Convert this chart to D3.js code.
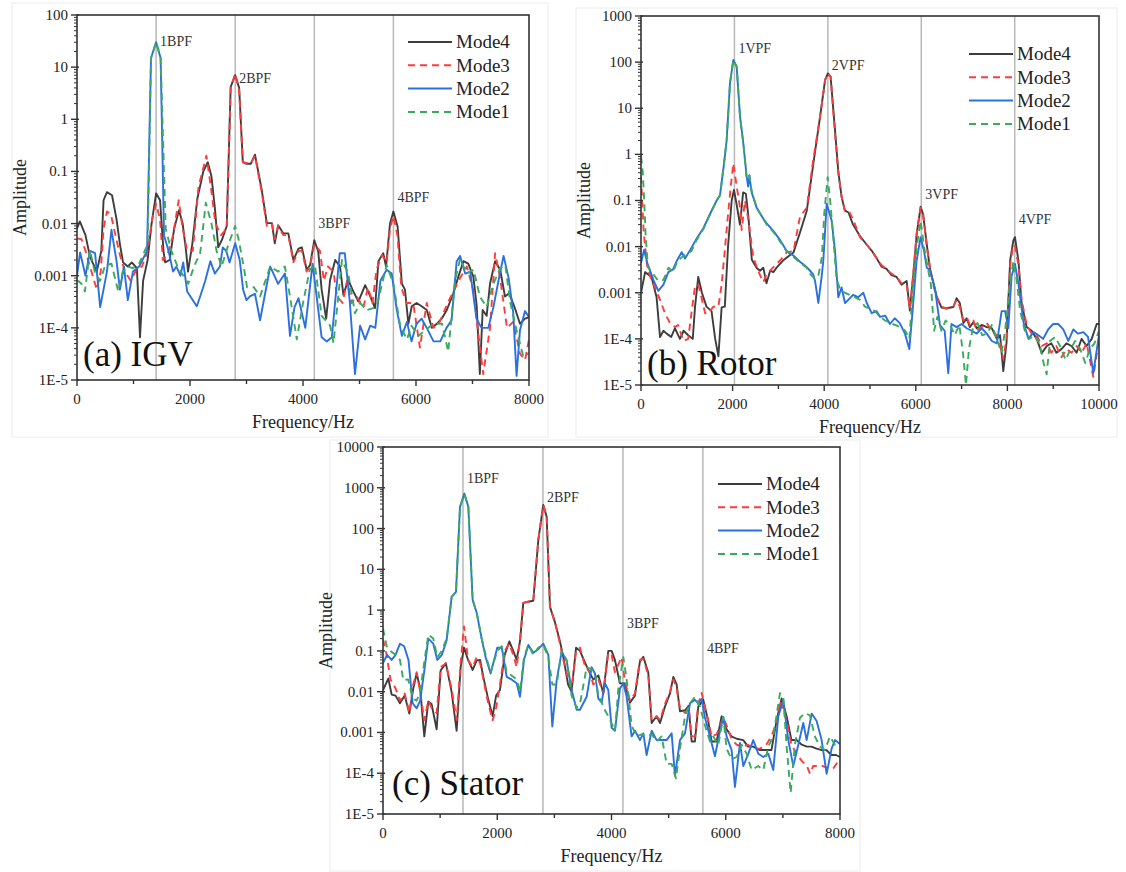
<!DOCTYPE html>
<html>
<head>
<meta charset="utf-8">
<script src="https://cdn.jsdelivr.net/npm/d3@7"></script>
<style>
  body { margin: 0; background: #fff; }
  svg { display: block; }
  text { font-family: "Liberation Serif", "Times New Roman", "DejaVu Serif", serif; }
</style>
</head>
<body>
<svg id="chart" width="1126" height="872" font-family="Liberation Serif, Times New Roman, serif"></svg>
<script>
// ---------- shared ----------
const modeNames = ["Mode4", "Mode3", "Mode2", "Mode1"];
const modeColors = ["#3d3d3d", "#ff3b3b", "#2b70e0", "#3aaa5c"];
const modeDashes = [null, "7,5", null, "7,5"];

// ---------- (a) IGV ----------
const igvXTicks = [0, 2000, 4000, 6000, 8000];
const igvYTicks = ["1E-5", "1E-4", "0.001", "0.01", "0.1", "1", "10", "100"];
const igvHarmonics = [1400, 2800, 4200, 5600];
const igvHarmonicNames = ["1BPF", "2BPF", "3BPF", "4BPF"];
const igvLabelAmp = [26, 5, 0.0082, 0.026];

const igvMode4 = [[0,0.008],[50,0.011],[150,0.006],[230,0.0023],[350,0.0012],[430,0.003],[470,0.028],[530,0.04],[620,0.035],[700,0.012],[760,0.004],[815,0.0018],[900,0.0015],[970,0.0018],[1060,0.0014],[1115,0.000066],[1170,0.0008],[1250,0.002],[1320,0.01],[1400,0.038],[1470,0.028],[1530,0.003],[1560,0.0018],[1640,0.002],[1720,0.008],[1805,0.018],[1870,0.01],[1930,0.003],[1965,0.0012],[2040,0.004],[2130,0.03],[2235,0.1],[2315,0.15],[2380,0.08],[2440,0.02],[2500,0.0035],[2570,0.005],[2650,0.009],[2720,4.2],[2800,7],[2870,4],[2935,0.15],[3000,0.14],[3075,0.14],[3150,0.21],[3270,0.044],[3360,0.0102],[3450,0.0102],[3500,0.0042],[3560,0.0093],[3650,0.0065],[3740,0.0065],[3830,0.002],[3920,0.0033],[3980,0.0035],[4065,0.0013],[4125,0.0016],[4200,0.0048],[4270,0.0029],[4330,0.00054],[4410,0.00015],[4480,0.00083],[4570,0.002],[4655,0.0015],[4715,0.00043],[4800,0.00083],[4890,0.0005],[4980,0.00032],[5100,0.00066],[5190,0.0004],[5275,0.00024],[5335,0.0019],[5420,0.0027],[5470,0.0015],[5540,0.01],[5600,0.017],[5675,0.0087],[5750,0.0007],[5805,0.00054],[5865,0.00012],[5925,0.00026],[6010,0.0003],[6100,0.00026],[6190,0.00022],[6280,0.0001],[6370,0.00012],[6455,0.00015],[6545,0.00022],[6660,0.00046],[6750,0.00096],[6840,0.0019],[6925,0.0017],[7015,0.00096],[7075,0.00026],[7130,0.000013],[7180,0.00022],[7250,0.00017],[7310,0.0007],[7400,0.0019],[7490,0.0013],[7575,0.0004],[7650,0.00046],[7750,0.00024],[7840,0.00012],[7930,0.00015],[8000,0.00016]];
const igvMode3 = [[0,0.0052],[80,0.005],[150,0.003],[230,0.0015],[350,0.00054],[420,0.0012],[470,0.008],[530,0.017],[600,0.015],[680,0.006],[760,0.0025],[850,0.0012],[950,0.0008],[1050,0.0013],[1150,0.0015],[1250,0.003],[1330,0.012],[1400,0.024],[1470,0.012],[1520,0.002],[1600,0.0025],[1700,0.006],[1800,0.028],[1870,0.008],[1950,0.003],[2050,0.003],[2150,0.05],[2290,0.2],[2370,0.05],[2450,0.01],[2550,0.006],[2650,0.008],[2720,4],[2800,7.5],[2870,3.5],[2935,0.15],[3075,0.14],[3150,0.2],[3270,0.04],[3360,0.009],[3450,0.01],[3500,0.005],[3560,0.009],[3650,0.006],[3740,0.006],[3830,0.0018],[3920,0.003],[3980,0.003],[4065,0.0012],[4125,0.0015],[4200,0.004],[4300,0.003],[4370,0.0008],[4440,0.0015],[4540,0.0012],[4600,0.0004],[4700,0.0003],[4780,0.0008],[4860,0.0003],[4950,0.0004],[5070,0.00025],[5150,0.0006],[5230,0.0003],[5300,0.0013],[5400,0.0025],[5480,0.0018],[5540,0.008],[5600,0.014],[5670,0.006],[5740,0.0006],[5830,0.0003],[5950,0.0003],[6070,0.000042],[6190,0.0003],[6310,0.0001],[6420,0.00013],[6560,0.0003],[6780,0.0009],[6900,0.0015],[7020,0.0005],[7100,0.00008],[7190,0.000013],[7310,0.0001],[7400,0.0027],[7490,0.0009],[7610,0.0001],[7720,0.00013],[7840,0.000032],[7930,0.000024],[8000,0.00006]];
const igvMode2 = [[0,0.001],[55,0.0028],[150,0.001],[230,0.003],[320,0.0027],[410,0.00025],[530,0.0012],[610,0.0076],[700,0.0019],[760,0.00054],[830,0.0015],[900,0.00034],[990,0.0012],[1100,0.0015],[1240,0.003],[1310,15],[1400,30],[1480,15],[1540,0.006],[1620,0.003],[1700,0.0012],[1760,0.0015],[1830,0.001],[1880,0.0018],[1950,0.0005],[2120,0.00026],[2180,0.0004],[2270,0.0008],[2360,0.0019],[2440,0.0011],[2530,0.0015],[2580,0.0035],[2640,0.003],[2700,0.0018],[2800,0.0042],[2880,0.002],[2940,0.00054],[3000,0.00034],[3060,0.0004],[3150,0.00045],[3240,0.00014],[3420,0.0015],[3560,0.0007],[3680,0.0011],[3770,0.00007],[3850,0.00025],[3920,0.00037],[4040,0.0001],[4170,0.0017],[4330,0.000066],[4420,0.000055],[4510,0.000066],[4650,0.0027],[4740,0.0027],[4830,0.0003],[4920,0.000013],[5010,0.00011],[5100,0.00006],[5190,0.00011],[5280,0.0001],[5370,0.0008],[5480,0.0013],[5570,0.0011],[5660,0.00022],[5750,0.00007],[5840,0.00013],[5920,0.000055],[6010,0.00012],[6100,0.00015],[6190,0.0001],[6310,0.000055],[6430,0.000055],[6540,0.0001],[6630,0.00014],[6720,0.0019],[6780,0.0024],[6870,0.0011],[6960,0.0012],[7070,0.00015],[7160,0.0001],[7280,0.0001],[7370,0.00025],[7460,0.0008],[7550,0.0024],[7640,0.0009],[7720,0.0002],[7780,0.000012],[7840,0.00009],[7930,0.00021],[8000,0.00016]];
const igvMode1 = [[0,0.00083],[80,0.0007],[140,0.0005],[230,0.0031],[320,0.0011],[410,0.0008],[500,0.0016],[610,0.0017],[730,0.0005],[810,0.0012],[900,0.0015],[990,0.0014],[1100,0.0017],[1250,0.004],[1310,15],[1400,30],[1480,15],[1570,0.008],[1670,0.003],[1780,0.0015],[1970,0.0007],[2070,0.0015],[2180,0.0027],[2280,0.025],[2380,0.01],[2470,0.003],[2560,0.0015],[2680,0.004],[2800,0.009],[2860,0.005],[2950,0.0015],[3010,0.0006],[3130,0.0006],[3240,0.0004],[3420,0.0015],[3560,0.0012],[3680,0.0015],[3770,0.0004],[3890,0.00006],[4000,0.0003],[4120,0.0013],[4210,0.0016],[4330,0.00017],[4480,0.00011],[4540,0.000051],[4690,0.002],[4800,0.0011],[4920,0.00019],[5010,0.0003],[5130,0.00022],[5300,0.00025],[5480,0.0016],[5600,0.0007],[5720,0.00011],[5840,0.00006],[5920,0.00011],[6040,0.00007],[6160,0.00009],[6310,0.00012],[6460,0.00012],[6570,0.000035],[6690,0.0008],[6780,0.0021],[6900,0.0011],[7020,0.0013],[7130,0.0004],[7250,0.00025],[7370,0.0007],[7490,0.0014],[7580,0.0016],[7670,0.0003],[7780,0.00009],[7900,0.000028],[8000,0.000033]];

// ---------- (b) Rotor ----------
const rotorXTicks = [0, 2000, 4000, 6000, 8000, 10000];
const rotorYTicks = ["1E-5", "1E-4", "0.001", "0.01", "0.1", "1", "10", "100", "1000"];
const rotorHarmonics = [2040, 4080, 6120, 8160];
const rotorHarmonicNames = ["1VPF", "2VPF", "3VPF", "4VPF"];
const rotorLabelAmp = [160, 67, 0.107, 0.031];

const rotorMode4 = [[0,0.001],[90,0.0028],[230,0.0022],[340,0.0008],[415,0.00011],[490,0.00015],[560,0.00013],[660,0.00011],[740,0.00017],[850,0.0001],[930,0.00015],[1030,0.00012],[1130,0.0001],[1180,0.0005],[1250,0.0022],[1330,0.001],[1430,0.0005],[1540,0.0004],[1620,0.0001],[1690,0.000042],[1760,0.00048],[1830,0.0005],[1900,0.01],[1980,0.1],[2030,0.17],[2090,0.08],[2160,0.03],[2230,0.15],[2290,0.14],[2340,0.05],[2420,0.0052],[2530,0.0034],[2600,0.003],[2670,0.0035],[2740,0.0016],[2820,0.003],[2890,0.0028],[2960,0.0035],[3100,0.005],[3330,0.0075],[3470,0.02],[3620,0.06],[3760,0.6],[3910,6.6],[4020,41],[4080,57],[4140,48],[4240,3],[4310,0.4],[4380,0.12],[4450,0.061],[4530,0.055],[4630,0.03],[4780,0.017],[4930,0.011],[5040,0.0081],[5150,0.0055],[5250,0.0037],[5360,0.0033],[5470,0.0024],[5580,0.0022],[5690,0.0015],[5800,0.0018],[5870,0.00041],[5950,0.0027],[6020,0.019],[6105,0.073],[6160,0.05],[6240,0.011],[6310,0.0033],[6380,0.0017],[6455,0.00083],[6560,0.00048],[6670,0.00046],[6820,0.00049],[6890,0.00076],[6960,0.0006],[7040,0.00022],[7110,0.00028],[7180,0.00018],[7260,0.00023],[7330,0.00017],[7440,0.0002],[7550,0.00018],[7660,0.00017],[7770,0.0001],[7840,0.00012],[7910,0.00002],[7980,0.00008],[8060,0.005],[8130,0.0137],[8165,0.016],[8240,0.005],[8310,0.0006],[8420,0.00018],[8530,0.00015],[8640,0.0001],[8750,0.000049],[8860,0.00007],[8960,0.00008],[9070,0.00005],[9180,0.00006],[9290,0.00008],[9400,0.00007],[9510,0.00005],[9620,0.0001],[9730,0.00007],[9840,0.0001],[9950,0.00021],[10000,0.00021]];
const rotorMode3 = [[0,0.33],[60,0.02],[130,0.004],[230,0.0018],[306,0.0013],[415,0.0007],[524,0.00036],[633,0.00022],[740,0.00018],[810,0.0002],[924,0.00009],[1030,0.0001],[1107,0.0004],[1180,0.0014],[1250,0.0015],[1320,0.0008],[1400,0.00036],[1470,0.00036],[1580,0.0005],[1690,0.0005],[1760,0.0015],[1830,0.0083],[1900,0.05],[1960,0.2],[2016,0.64],[2090,0.2],[2162,0.07],[2198,0.023],[2270,0.1],[2340,0.04],[2452,0.0059],[2562,0.0029],[2670,0.0017],[2740,0.0025],[2890,0.0036],[3035,0.005],[3180,0.0075],[3330,0.008],[3470,0.044],[3620,0.07],[3760,0.75],[3910,6.6],[4020,41],[4080,57],[4140,48],[4235,2.85],[4310,0.39],[4380,0.12],[4450,0.06],[4530,0.062],[4640,0.037],[4780,0.016],[4930,0.011],[5040,0.008],[5150,0.0055],[5250,0.004],[5360,0.0032],[5470,0.0026],[5580,0.0022],[5690,0.0016],[5800,0.0015],[5870,0.00045],[5950,0.003],[6020,0.02],[6105,0.07],[6160,0.05],[6240,0.01],[6310,0.0035],[6380,0.0015],[6455,0.0008],[6560,0.0005],[6670,0.00045],[6820,0.0005],[6890,0.0007],[6960,0.0005],[7040,0.00025],[7110,0.0003],[7180,0.0002],[7260,0.00025],[7330,0.00015],[7440,0.00018],[7550,0.00022],[7660,0.00015],[7770,0.00012],[7840,0.00008],[7910,0.000037],[7980,0.0001],[8060,0.004],[8130,0.011],[8165,0.01],[8240,0.004],[8310,0.0007],[8420,0.0002],[8530,0.00013],[8640,0.00012],[8750,0.00007],[8860,0.00008],[8960,0.00005],[9070,0.00007],[9180,0.00004],[9290,0.00006],[9400,0.00005],[9510,0.00007],[9620,0.00005],[9730,0.00008],[9875,0.000015],[10000,0.0001]];
const rotorMode2 = [[0,0.0044],[66,0.0085],[139,0.0044],[270,0.0019],[379,0.0011],[490,0.0015],[597,0.0028],[700,0.0032],[780,0.0049],[888,0.0076],[960,0.0055],[1070,0.0083],[1216,0.015],[1361,0.025],[1507,0.051],[1652,0.1],[1725,0.13],[1800,0.5],[1870,2],[1943,35],[2016,112],[2089,80],[2162,6.6],[2235,1.7],[2307,0.33],[2340,0.2],[2366,0.35],[2416,0.15],[2525,0.07],[2671,0.04],[2744,0.032],[2889,0.022],[3035,0.014],[3180,0.008],[3326,0.0064],[3471,0.0047],[3617,0.0036],[3690,0.003],[3760,0.0025],[3800,0.0018],[3872,0.0006],[3950,0.0025],[3981,0.005],[4054,0.085],[4163,0.037],[4236,0.0081],[4308,0.0008],[4380,0.0013],[4454,0.0006],[4526,0.0007],[4630,0.0009],[4740,0.0008],[4854,0.001],[4930,0.0006],[5036,0.00036],[5140,0.0004],[5220,0.0003],[5330,0.00032],[5436,0.00021],[5540,0.00028],[5650,0.00022],[5763,0.00013],[5858,0.00006],[5930,0.0004],[6018,0.005],[6105,0.016],[6180,0.008],[6240,0.0035],[6309,0.0031],[6420,0.0012],[6527,0.0002],[6630,0.00015],[6709,0.000018],[6780,0.00021],[6890,0.00018],[7000,0.00021],[7110,0.00017],[7220,0.00015],[7330,0.00013],[7440,0.00017],[7550,0.00013],[7660,0.00009],[7770,0.00008],[7874,0.0004],[7950,0.0004],[8020,0.00017],[8092,0.0023],[8165,0.0042],[8240,0.0016],[8350,0.00023],[8460,0.0001],[8570,0.00014],[8680,0.00012],[8780,0.0001],[8890,0.00016],[9000,0.00021],[9110,0.00021],[9220,0.00016],[9330,0.00009],[9440,0.00016],[9540,0.00013],[9660,0.00014],[9760,0.00011],[9875,0.000018],[10000,0.00012]];
const rotorMode1 = [[0,0.9],[40,0.4],[70,0.1],[100,0.019],[150,0.0036],[270,0.0025],[380,0.0018],[490,0.0019],[600,0.0035],[700,0.0028],[790,0.0048],[900,0.006],[1000,0.007],[1100,0.008],[1216,0.014],[1361,0.024],[1507,0.05],[1652,0.1],[1725,0.13],[1800,0.5],[1870,2],[1943,35],[2016,112],[2089,80],[2162,6.6],[2235,1.7],[2307,0.3],[2366,0.35],[2416,0.16],[2525,0.07],[2671,0.04],[2744,0.03],[2889,0.021],[3035,0.013],[3180,0.008],[3326,0.006],[3471,0.0045],[3617,0.0035],[3700,0.0025],[3800,0.002],[3880,0.0025],[3950,0.006],[4000,0.05],[4075,0.32],[4130,0.1],[4200,0.015],[4270,0.002],[4344,0.0012],[4450,0.001],[4560,0.0009],[4670,0.0008],[4780,0.0007],[4890,0.0005],[5000,0.00045],[5110,0.0004],[5220,0.0003],[5330,0.00025],[5440,0.00022],[5550,0.0002],[5660,0.00018],[5770,0.00015],[5860,0.0001],[5930,0.001],[6020,0.01],[6105,0.036],[6180,0.01],[6250,0.004],[6330,0.0015],[6400,0.00015],[6470,0.0003],[6560,0.00015],[6650,0.00025],[6750,0.0002],[6850,0.00012],[6950,0.0002],[7030,0.00005],[7095,0.00001],[7160,0.00006],[7250,0.00018],[7350,0.00022],[7450,0.00012],[7560,0.00013],[7660,0.0002],[7770,0.0001],[7870,0.00005],[7950,0.00015],[8050,0.0015],[8130,0.0048],[8200,0.002],[8280,0.0004],[8380,0.00015],[8480,0.0001],[8580,0.00012],[8700,0.00008],[8790,0.00003],[8856,0.000017],[8930,0.00009],[9040,0.00011],[9150,0.00007],[9270,0.000035],[9380,0.00006],[9480,0.00009],[9590,0.00006],[9700,0.00003],[9800,0.00006],[9900,0.00008],[10000,0.00015]];

// ---------- (c) Stator ----------
const statorXTicks = [0, 2000, 4000, 6000, 8000];
const statorYTicks = ["1E-5", "1E-4", "0.001", "0.01", "0.1", "1", "10", "100", "1000", "10000"];
const statorHarmonics = [1400, 2800, 4200, 5600];
const statorHarmonicNames = ["1BPF", "2BPF", "3BPF", "4BPF"];
const statorLabelAmp = [1300, 450, 0.36, 0.089];

const statorMode4 = [[0,0.011],[93,0.021],[151,0.0085],[220,0.008],[297,0.0052],[380,0.008],[461,0.0029],[530,0.012],[589,0.028],[650,0.012],[723,0.0008],[793,0.0057],[850,0.005],[939,0.0012],[1009,0.033],[1100,0.05],[1200,0.01],[1289,0.0011],[1359,0.04],[1418,0.12],[1490,0.06],[1569,0.034],[1640,0.058],[1700,0.06],[1756,0.023],[1844,0.0063],[1920,0.0025],[1980,0.008],[2048,0.011],[2130,0.08],[2211,0.17],[2280,0.1],[2340,0.06],[2400,0.18],[2456,1.5],[2540,1.6],[2631,1.7],[2719,53],[2806,380],[2865,196],[2923,1.2],[3011,0.5],[3098,0.17],[3157,0.07],[3240,0.015],[3300,0.01],[3380,0.12],[3448,0.1],[3540,0.05],[3623,0.028],[3680,0.02],[3770,0.025],[3856,0.0093],[3944,0.1],[4002,0.1],[4060,0.06],[4148,0.016],[4230,0.016],[4323,0.0054],[4410,0.008],[4498,0.055],[4557,0.072],[4644,0.029],[4703,0.0017],[4790,0.0025],[4850,0.0017],[4936,0.0043],[5024,0.0091],[5082,0.023],[5140,0.015],[5199,0.0033],[5290,0.0035],[5350,0.0045],[5403,0.0006],[5460,0.0006],[5519,0.0043],[5607,0.0063],[5690,0.002],[5753,0.0006],[5840,0.0006],[5928,0.0025],[6015,0.0012],[6100,0.0008],[6190,0.0007],[6307,0.00065],[6390,0.00045],[6480,0.00045],[6600,0.00037],[6710,0.00037],[6800,0.00037],[6891,0.002],[6978,0.0068],[7066,0.0025],[7150,0.00065],[7240,0.00065],[7330,0.0005],[7420,0.00045],[7500,0.00045],[7590,0.0004],[7680,0.00037],[7760,0.00037],[7850,0.00028],[7930,0.00028],[8000,0.00025]];
const statorMode3 = [[0,0.19],[64,0.08],[130,0.02],[220,0.012],[297,0.006],[380,0.009],[461,0.003],[530,0.015],[589,0.03],[650,0.01],[723,0.002],[793,0.006],[850,0.004],[939,0.003],[1009,0.04],[1100,0.05],[1200,0.012],[1289,0.002],[1359,0.05],[1418,0.4],[1490,0.06],[1569,0.04],[1640,0.07],[1700,0.05],[1756,0.02],[1844,0.005],[1920,0.002],[1980,0.004],[2048,0.015],[2130,0.1],[2211,0.15],[2280,0.08],[2340,0.04],[2400,0.2],[2456,1.5],[2540,1.6],[2631,1.7],[2719,53],[2806,380],[2865,196],[2923,1.2],[3011,0.5],[3098,0.15],[3157,0.06],[3240,0.02],[3300,0.012],[3380,0.1],[3448,0.12],[3540,0.04],[3623,0.03],[3680,0.015],[3770,0.02],[3856,0.009],[3944,0.09],[4002,0.08],[4060,0.03],[4177,0.07],[4230,0.02],[4323,0.006],[4410,0.009],[4498,0.06],[4557,0.065],[4644,0.025],[4703,0.002],[4790,0.0025],[4850,0.002],[4936,0.005],[5024,0.01],[5082,0.02],[5140,0.012],[5199,0.004],[5290,0.003],[5350,0.004],[5403,0.0008],[5460,0.0008],[5519,0.005],[5578,0.0093],[5690,0.002],[5753,0.0008],[5840,0.0009],[5957,0.0023],[6015,0.0015],[6100,0.0007],[6190,0.0005],[6307,0.00045],[6390,0.0005],[6480,0.0004],[6600,0.0004],[6710,0.0005],[6800,0.0008],[6891,0.0018],[6949,0.006],[7066,0.002],[7150,0.0005],[7240,0.0003],[7330,0.0002],[7420,0.00015],[7474,0.000097],[7530,0.00015],[7620,0.00015],[7700,0.00015],[7800,0.00013],[7882,0.00013],[7950,0.00018],[8000,0.00018]];
const statorMode2 = [[0,0.05],[70,0.08],[151,0.06],[220,0.08],[297,0.15],[370,0.13],[446,0.06],[519,0.0052],[589,0.0039],[650,0.006],[720,0.03],[793,0.2],[880,0.15],[951,0.06],[1030,0.08],[1114,0.18],[1202,2.1],[1278,2.8],[1348,340],[1424,720],[1494,340],[1569,1.8],[1640,0.86],[1727,0.2],[1797,0.07],[1884,0.028],[2000,0.12],[2080,0.12],[2165,0.023],[2250,0.02],[2340,0.016],[2398,0.0075],[2468,0.06],[2544,0.14],[2631,0.09],[2719,0.11],[2806,0.15],[2894,0.08],[2964,0.0014],[3040,0.019],[3127,0.095],[3215,0.057],[3302,0.011],[3390,0.0036],[3448,0.0036],[3565,0.0075],[3652,0.04],[3711,0.028],[3769,0.0068],[3827,0.0055],[3886,0.016],[3944,0.011],[4002,0.0013],[4061,0.0011],[4148,0.012],[4207,0.016],[4265,0.0075],[4352,0.0008],[4411,0.0011],[4498,0.00065],[4557,0.00095],[4615,0.00028],[4703,0.0011],[4790,0.00065],[4878,0.00065],[4965,0.00065],[5053,0.00095],[5111,0.000086],[5199,0.00065],[5286,0.00095],[5374,0.0052],[5461,0.0063],[5519,0.0052],[5578,0.0067],[5636,0.0023],[5724,0.0008],[5811,0.00026],[5899,0.0011],[5957,0.0024],[6015,0.0008],[6103,0.00037],[6161,0.000046],[6249,0.00055],[6307,0.00015],[6395,0.0003],[6482,0.00065],[6570,0.0003],[6657,0.00025],[6745,0.0003],[6832,0.00012],[6920,0.0025],[7007,0.0063],[7095,0.00065],[7182,0.00015],[7270,0.0005],[7357,0.0017],[7416,0.00065],[7504,0.0029],[7591,0.0019],[7678,0.00065],[7766,0.000097],[7853,0.0004],[7912,0.00065],[8000,0.00052]];
const statorMode1 = [[0,0.35],[70,0.12],[130,0.1],[220,0.08],[297,0.06],[356,0.019],[440,0.02],[519,0.007],[589,0.006],[650,0.01],[720,0.05],[793,0.25],[880,0.2],[951,0.07],[1030,0.1],[1114,0.2],[1202,2.1],[1278,2.8],[1348,340],[1424,700],[1494,340],[1569,1.8],[1640,0.86],[1727,0.2],[1797,0.08],[1884,0.03],[2000,0.1],[2080,0.13],[2165,0.03],[2250,0.025],[2340,0.02],[2398,0.01],[2468,0.07],[2544,0.14],[2631,0.08],[2719,0.12],[2806,0.14],[2894,0.07],[2964,0.015],[3040,0.015],[3127,0.1],[3215,0.06],[3302,0.008],[3390,0.004],[3448,0.005],[3565,0.04],[3652,0.035],[3711,0.028],[3769,0.008],[3827,0.0055],[3886,0.0035],[3944,0.0025],[4061,0.0011],[4120,0.012],[4207,0.07],[4265,0.02],[4352,0.0015],[4440,0.0008],[4527,0.0009],[4615,0.0008],[4703,0.0009],[4790,0.0006],[4878,0.0008],[4965,0.00017],[5053,0.00017],[5128,0.000075],[5199,0.0004],[5286,0.0025],[5374,0.0052],[5461,0.0075],[5549,0.0043],[5636,0.0015],[5724,0.0006],[5782,0.0008],[5870,0.0005],[5957,0.0024],[6015,0.0004],[6103,0.00022],[6190,0.00025],[6278,0.0005],[6366,0.0003],[6453,0.00012],[6570,0.00015],[6657,0.00012],[6745,0.00045],[6832,0.0008],[6949,0.0092],[7007,0.0075],[7066,0.00045],[7136,0.000033],[7210,0.0005],[7300,0.0023],[7387,0.003],[7474,0.0026],[7560,0.0008],[7650,0.00045],[7736,0.00037],[7824,0.0008],[7912,0.0005],[8000,0.00055]];

// ---------- panel layout ----------
const panels = [
  { id: "igv", label: "(a) IGV", left: 77, top: 15, right: 529, bottom: 380, frame: [12, 3, 548, 437],
    xMax: 8000, xTicks: igvXTicks, yTicks: igvYTicks, yMin: 1e-5,
    harmonics: igvHarmonics, harmonicNames: igvHarmonicNames, labelAmp: igvLabelAmp,
    series: [igvMode4, igvMode3, igvMode2, igvMode1],
    legend: { dx: -121, dy: 27 }, panelLabel: { dx: 6, dy: -14 } },
  { id: "rotor", label: "(b) Rotor", left: 641, top: 16, right: 1099, bottom: 385, frame: [576, 8, 1117, 437],
    xMax: 10000, xTicks: rotorXTicks, yTicks: rotorYTicks, yMin: 1e-5,
    harmonics: rotorHarmonics, harmonicNames: rotorHarmonicNames, labelAmp: rotorLabelAmp,
    series: [rotorMode4, rotorMode3, rotorMode2, rotorMode1],
    legend: { dx: -130, dy: 38 }, panelLabel: { dx: 6, dy: -10 } },
  { id: "stator", label: "(c) Stator", left: 383, top: 447, right: 840, bottom: 814, frame: [330, 440, 860, 871],
    xMax: 8000, xTicks: statorXTicks, yTicks: statorYTicks, yMin: 1e-5,
    harmonics: statorHarmonics, harmonicNames: statorHarmonicNames, labelAmp: statorLabelAmp,
    series: [statorMode4, statorMode3, statorMode2, statorMode1],
    legend: { dx: -122, dy: 37 }, panelLabel: { dx: 9, dy: -19 } }
];

const svg = d3.select("#chart");
const defs = svg.append("defs");

function drawPanel(p) {
  const g = svg.append("g");
  const yMax = p.yMin * Math.pow(10, p.yTicks.length - 1);
  const x = d3.scaleLinear().domain([0, p.xMax]).range([p.left, p.right]);
  const y = d3.scaleLog().domain([p.yMin, yMax]).range([p.bottom, p.top]);

  // faint outer frame
  g.append("rect")
    .attr("x", p.frame[0]).attr("y", p.frame[1])
    .attr("width", p.frame[2] - p.frame[0]).attr("height", p.frame[3] - p.frame[1])
    .attr("fill", "none").attr("stroke", "#ececec").attr("stroke-width", 1);

  defs.append("clipPath").attr("id", "clip-" + p.id)
    .append("rect")
    .attr("x", p.left).attr("y", p.top)
    .attr("width", p.right - p.left).attr("height", p.bottom - p.top);

  // harmonic guide lines
  g.append("g").selectAll("line")
    .data(p.harmonics)
    .join("line")
    .attr("x1", d => x(d)).attr("x2", d => x(d))
    .attr("y1", p.top).attr("y2", p.bottom)
    .attr("stroke", "#b8b8b8").attr("stroke-width", 1.5);

  // spectra
  const line = d3.line()
    .x(d => x(d[0]))
    .y(d => y(Math.max(d[1], 1e-6)));

  g.append("g").attr("clip-path", `url(#clip-${p.id})`)
    .selectAll("path")
    .data(p.series)
    .join("path")
    .attr("fill", "none")
    .attr("stroke", (d, i) => modeColors[i])
    .attr("stroke-dasharray", (d, i) => modeDashes[i])
    .attr("stroke-width", 1.9)
    .attr("stroke-linejoin", "round")
    .attr("d", d => line(d));

  // box
  g.append("rect")
    .attr("x", p.left).attr("y", p.top)
    .attr("width", p.right - p.left).attr("height", p.bottom - p.top)
    .attr("fill", "none").attr("stroke", "#333").attr("stroke-width", 1.6);

  // x axis ticks
  const minorX = d3.range(0, p.xMax + 1, 1000);
  g.append("g").selectAll("line")
    .data(minorX)
    .join("line")
    .attr("x1", d => x(d)).attr("x2", d => x(d))
    .attr("y1", p.bottom)
    .attr("y2", d => p.bottom + (p.xTicks.includes(d) ? 6 : 4))
    .attr("stroke", "#333").attr("stroke-width", 1.4);

  g.append("g").selectAll("text")
    .data(p.xTicks)
    .join("text")
    .attr("x", d => x(d))
    .attr("y", p.bottom + 24)
    .attr("text-anchor", "middle")
    .attr("font-size", 15)
    .attr("fill", "#222")
    .text(d => d);

  // y axis ticks (log)
  const decades = p.yTicks.map((t, i) => p.yMin * Math.pow(10, i));
  const minorY = [];
  decades.slice(0, -1).forEach(dv => {
    for (let k = 2; k <= 9; k++) minorY.push(dv * k);
  });
  g.append("g").selectAll("line")
    .data(minorY)
    .join("line")
    .attr("x1", p.left - 3).attr("x2", p.left)
    .attr("y1", d => y(d)).attr("y2", d => y(d))
    .attr("stroke", "#333").attr("stroke-width", 1);

  g.append("g").selectAll("line")
    .data(decades)
    .join("line")
    .attr("x1", p.left - 6).attr("x2", p.left + 2)
    .attr("y1", d => y(d)).attr("y2", d => y(d))
    .attr("stroke", "#333").attr("stroke-width", 1.4);

  g.append("g").selectAll("text")
    .data(decades)
    .join("text")
    .attr("x", p.left - 9)
    .attr("y", d => y(d))
    .attr("dy", "0.33em")
    .attr("text-anchor", "end")
    .attr("font-size", 15)
    .attr("fill", "#222")
    .text((d, i) => p.yTicks[i]);

  // axis titles
  g.append("text")
    .attr("x", (p.left + p.right) / 2)
    .attr("y", p.bottom + 48)
    .attr("text-anchor", "middle")
    .attr("font-size", 18)
    .attr("fill", "#222")
    .text("Frequency/Hz");

  g.append("text")
    .attr("transform", `translate(${p.left - 51},${(p.top + p.bottom) / 2}) rotate(-90)`)
    .attr("text-anchor", "middle")
    .attr("font-size", 18)
    .attr("fill", "#222")
    .text("Amplitude");

  // harmonic labels
  g.append("g").selectAll("text")
    .data(p.harmonics)
    .join("text")
    .attr("x", d => x(d) + 4)
    .attr("y", (d, i) => y(p.labelAmp[i]))
    .attr("font-size", 14)
    .attr("fill", "#333")
    .text((d, i) => p.harmonicNames[i]);

  // panel label
  g.append("text")
    .attr("x", p.left + p.panelLabel.dx)
    .attr("y", p.bottom + p.panelLabel.dy)
    .attr("font-size", 35)
    .attr("fill", "#111")
    .text(p.label);

  // legend
  const lx = p.right + p.legend.dx;
  const ly = p.top + p.legend.dy;
  const leg = g.append("g").selectAll("g")
    .data(modeNames)
    .join("g")
    .attr("transform", (d, i) => `translate(${lx},${ly + i * 23.3})`);
  leg.append("line")
    .attr("x1", 0).attr("x2", 44)
    .attr("stroke", (d, i) => modeColors[i])
    .attr("stroke-dasharray", (d, i) => modeDashes[i])
    .attr("stroke-width", 2);
  leg.append("text")
    .attr("x", 48)
    .attr("dy", "0.34em")
    .attr("font-size", 19)
    .attr("fill", "#222")
    .text(d => d);
}

panels.forEach(drawPanel);
</script>
</body>
</html>
